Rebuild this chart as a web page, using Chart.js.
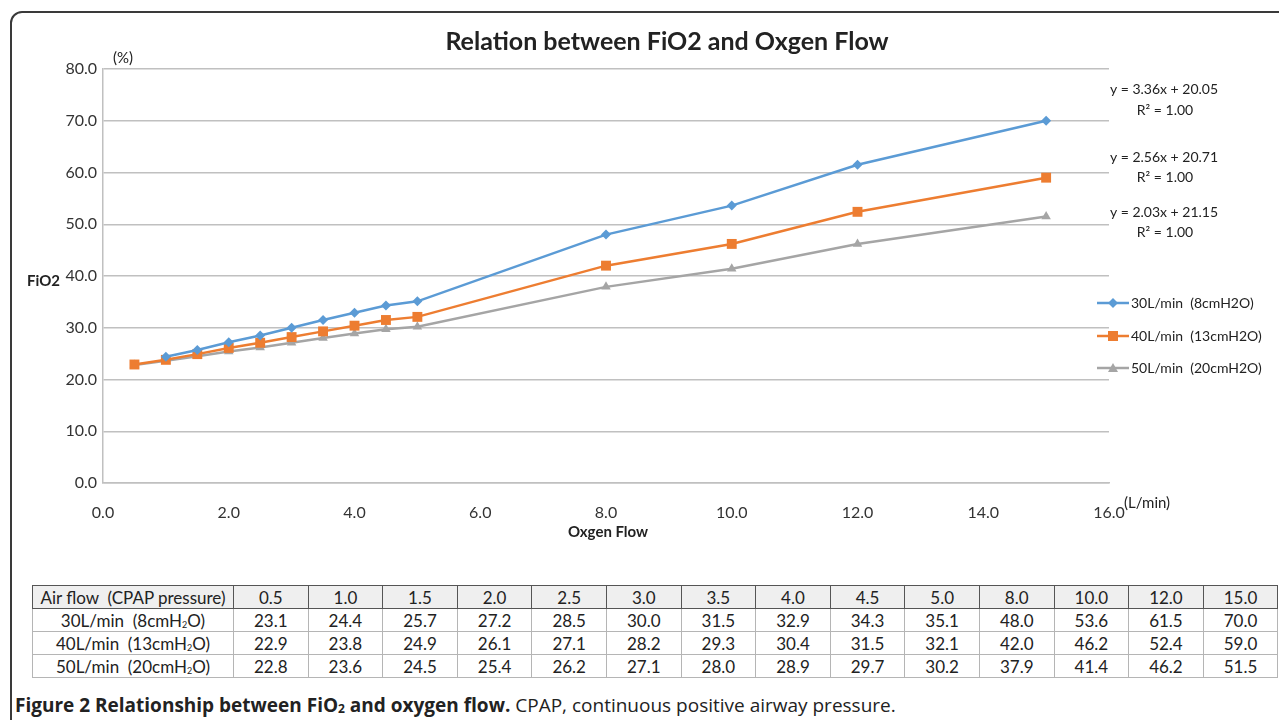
<!DOCTYPE html>
<html>
<head>
<meta charset="utf-8">
<script src="https://cdn.jsdelivr.net/npm/chart.js@4"></script>
<style>
  body { margin: 0; background: #fff; width: 1279px; height: 720px; overflow: hidden; position: relative; font-family: Lato, "Open Sans", sans-serif; }
  #frame { position: absolute; left: 10px; top: 11px; width: 1400px; height: 800px; border: 2px solid #3a3a3a; border-top-left-radius: 12px; }
  #wrap { position: absolute; left: 0; top: 0; width: 1279px; height: 560px; }
  table { position: absolute; left: 32px; top: 585px; border-collapse: collapse; font-family: Lato, sans-serif; font-size: 17px; color: #222; table-layout: fixed; }
  td, th { height: 22px; padding: 0; text-align: center; border: 1px solid #b5b5b5; font-weight: normal; white-space: pre; }
  th { background: #efefef; border: 1px solid #555; }
  sub { font-size: 9px; vertical-align: -1px; }
  #caption { position: absolute; left: 15px; top: 692px; font-family: "Open Sans", sans-serif; font-size: 19px; color: #222; }
  #caption b sub { font-size: 12px; }
</style>
</head>
<body>
<div id="frame"></div>
<div id="wrap"><canvas id="chart"></canvas></div>
<table id="tbl"></table>
<div id="caption"><b>Figure 2 Relationship between FiO<sub>2</sub> and oxygen flow.</b> CPAP, continuous positive airway pressure.</div>
<script>
const flows = [0.5, 1.0, 1.5, 2.0, 2.5, 3.0, 3.5, 4.0, 4.5, 5.0, 8.0, 10.0, 12.0, 15.0];
const fio2At30 = [23.1, 24.4, 25.7, 27.2, 28.5, 30.0, 31.5, 32.9, 34.3, 35.1, 48.0, 53.6, 61.5, 70.0];
const fio2At40 = [22.9, 23.8, 24.9, 26.1, 27.1, 28.2, 29.3, 30.4, 31.5, 32.1, 42.0, 46.2, 52.4, 59.0];
const fio2At50 = [22.8, 23.6, 24.5, 25.4, 26.2, 27.1, 28.0, 28.9, 29.7, 30.2, 37.9, 41.4, 46.2, 51.5];
const seriesNames = ['30L/min  (8cmH2O)', '40L/min  (13cmH2O)', '50L/min  (20cmH2O)'];
const rowNames = ['30L/min  (8cmH<sub>2</sub>O)', '40L/min  (13cmH<sub>2</sub>O)', '50L/min  (20cmH<sub>2</sub>O)'];
const trendLines = [['y = 3.36x + 20.05', 'R² = 1.00'], ['y = 2.56x + 20.71', 'R² = 1.00'], ['y = 2.03x + 21.15', 'R² = 1.00']];
const colors = ['#5b9bd5', '#ed7d31', '#a5a5a5'];

// table under the chart
let html = '<tr><th style="width:200px">Air flow  (CPAP pressure)</th>';
flows.forEach(f => { html += '<th style="width:73.6px">' + f.toFixed(1) + '</th>'; });
html += '</tr>';
[fio2At30, fio2At40, fio2At50].forEach((row, i) => {
  html += '<tr><td>' + rowNames[i] + '</td>';
  row.forEach(v => { html += '<td>' + v.toFixed(1) + '</td>'; });
  html += '</tr>';
});
document.getElementById('tbl').innerHTML = html;

const pts = arr => arr.map((v, i) => ({ x: flows[i], y: v }));

// the 30L/min line in the picture starts at 1.0
const blueData = pts(fio2At30).slice(1);

function marker(ctx, style, x, y, color) {
  ctx.fillStyle = color;
  ctx.beginPath();
  if (style === 'diamond') {
    ctx.moveTo(x, y - 5); ctx.lineTo(x + 5, y); ctx.lineTo(x, y + 5); ctx.lineTo(x - 5, y);
  } else if (style === 'square') {
    ctx.rect(x - 5, y - 5, 10, 10);
  } else {
    ctx.moveTo(x, y - 5); ctx.lineTo(x + 5, y + 4); ctx.lineTo(x - 5, y + 4);
  }
  ctx.closePath();
  ctx.fill();
}

const extras = {
  id: 'extras',
  afterDraw(chart) {
    const ctx = chart.ctx;
    ctx.save();
    ctx.fillStyle = '#222';
    ctx.textAlign = 'center';
    ctx.textBaseline = 'middle';
    ctx.font = 'bold 25px Lato';
    ctx.fillText('Relation between FiO2 and Oxgen Flow', 667, 42);
    ctx.font = '15px Lato';
    ctx.textAlign = 'left';
    ctx.fillText('(%)', 113, 58);
    ctx.fillText('(L/min)', 1124, 503);
    ctx.font = 'bold 15px Lato';
    ctx.fillText('FiO2', 27, 281);
    ctx.textAlign = 'center';
    ctx.fillText('Oxgen Flow', 608, 532);

    ctx.font = '14px Lato';
    const eqY = [[89, 110], [157, 177], [212, 232]];
    trendLines.forEach((t, i) => {
      ctx.fillText(t[0], 1164, eqY[i][0]);
      ctx.fillText(t[1], 1165, eqY[i][1]);
    });

    // legend
    const legY = [303, 336, 368];
    const styles = ['diamond', 'square', 'triangle'];
    ctx.textAlign = 'left';
    seriesNames.forEach((n, i) => {
      ctx.strokeStyle = colors[i];
      ctx.lineWidth = 2.5;
      ctx.beginPath();
      ctx.moveTo(1097, legY[i]); ctx.lineTo(1129, legY[i]);
      ctx.stroke();
      marker(ctx, styles[i], 1113, legY[i], colors[i]);
      ctx.fillStyle = '#222';
      ctx.fillText(n, 1131, legY[i]);
    });
    ctx.restore();
  }
};

Chart.defaults.font.family = 'Lato';
Chart.defaults.color = '#333';

new Chart(document.getElementById('chart'), {
  type: 'line',
  data: {
    datasets: [
      { label: seriesNames[0], data: blueData, borderColor: colors[0], backgroundColor: colors[0], borderWidth: 2.5, pointStyle: 'rectRot', pointRadius: 5, pointBorderWidth: 0 },
      { label: seriesNames[1], data: pts(fio2At40), borderColor: colors[1], backgroundColor: colors[1], borderWidth: 2.5, pointStyle: 'rect', pointRadius: 7, pointBorderWidth: 0 },
      { label: seriesNames[2], data: pts(fio2At50), borderColor: colors[2], backgroundColor: colors[2], borderWidth: 2.5, pointStyle: 'triangle', pointRadius: 5.5, pointBorderWidth: 0 }
    ]
  },
  options: {
    responsive: true,
    maintainAspectRatio: false,
    animation: false,
    layout: { padding: { left: 33, top: 69, right: 170, bottom: 37 } },
    plugins: { legend: { display: false }, tooltip: { enabled: false } },
    scales: {
      x: {
        type: 'linear', min: 0, max: 16,
        ticks: { stepSize: 2, callback: v => v.toFixed(1), font: { size: 16 }, color: '#333', padding: 12 },
        grid: { display: false },
        border: { color: '#c0c0c0', width: 1.5 },
        afterFit: s => { s.height = 40; }
      },
      y: {
        min: 0, max: 80,
        ticks: { stepSize: 10, callback: v => v.toFixed(1), font: { size: 16 }, color: '#333', padding: 6 },
        grid: { color: '#c0c0c0', lineWidth: 1.5, drawTicks: false },
        border: { color: '#c0c0c0', width: 1.5 },
        afterFit: s => { s.width = 70; }
      }
    }
  },
  plugins: [extras]
});
</script>
</body>
</html>
